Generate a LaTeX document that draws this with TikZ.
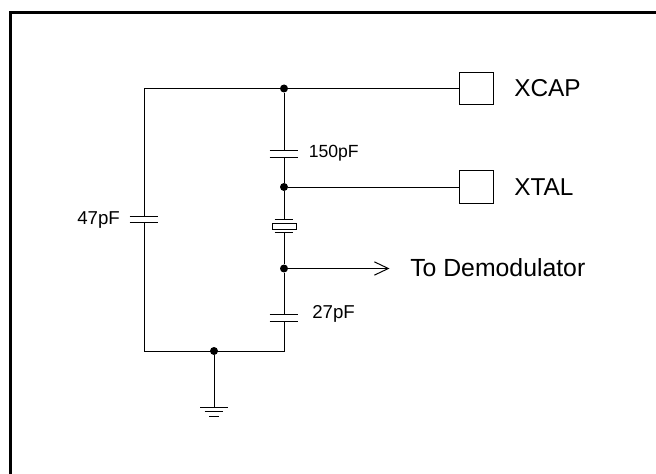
\documentclass[tikz,border=0pt]{standalone}
\usepackage{fontspec}
\setmainfont{Liberation Sans}
\usetikzlibrary{arrows.meta}

\tikzset{
	wire/.style={line width=0.75pt},
	dotnode/.style={circle, fill=black, inner sep=0pt, minimum size=6pt},
	padnode/.style={draw, line width=0.75pt, fill=white, minimum width=26pt, minimum height=24.5pt, inner sep=0pt},
	smalllabel/.style={inner sep=0pt, font=\fontsize{14pt}{15pt}\selectfont},
	biglabel/.style={inner sep=0pt, font=\fontsize{18.3pt}{20pt}\selectfont}
}

\begin{document}
\begin{tikzpicture}[x=0.75pt,y=-0.75pt]
	\useasboundingbox (0,0) rectangle (656,474);
	\draw[line width=2.25pt] (10.5,474)--(10.5,12.5)--(656,12.5);

	\node[dotnode] (top) at (284,88.5) {};
	\node[dotnode] (mid) at (284,187) {};
	\node[dotnode] (dem) at (284,268.5) {};
	\node[dotnode] (gnd) at (214,351) {};
	\coordinate (leftup) at (144,88.5);
	\coordinate (leftdown) at (144,351);
	\coordinate (rightdown) at (284,351);
	\node[padnode] (xcap) at (476.5,88.5) {};
	\node[padnode] (xtal) at (476.5,187) {};
	\coordinate (arrowend) at (389.5,268.5);

	% capacitor plates
	\coordinate (c47a) at (144,216);
	\coordinate (c47b) at (144,222.7);
	\coordinate (c150a) at (284,150.7);
	\coordinate (c150b) at (284,157.3);
	\coordinate (c27a) at (284,314.3);
	\coordinate (c27b) at (284,321);

	\draw[wire] (top)--(xcap);
	\draw[wire] (top)--(leftup)--(c47a);
	\draw[wire] (c47b)--(leftdown)--(rightdown)--(c27b);
	\draw[wire] (top)--(c150a);
	\draw[wire] (c150b)--(mid);
	\draw[wire] (mid)--(xtal);
	\draw[wire] (c27a)--(dem);
	\draw[wire, -{Straight Barb[length=10.5pt,width=10pt]}] (dem)--(arrowend);

	\draw[wire] ([xshift=-10.7pt]c47a)--([xshift=10.7pt]c47a);
	\draw[wire] ([xshift=-10.7pt]c47b)--([xshift=10.7pt]c47b);
	\draw[wire] ([xshift=-10.7pt]c150a)--([xshift=10.7pt]c150a);
	\draw[wire] ([xshift=-10.7pt]c150b)--([xshift=10.7pt]c150b);
	\draw[wire] ([xshift=-10.7pt]c27a)--([xshift=10.7pt]c27a);
	\draw[wire] ([xshift=-10.7pt]c27b)--([xshift=10.7pt]c27b);

	% crystal
	\node[draw, line width=0.75pt, minimum width=18pt, minimum height=5pt, inner sep=0pt] (crystal) at (284.5,226.5) {};
	\coordinate (xa) at (284,219.3);
	\coordinate (xb) at (284,232.7);
	\draw[wire] (mid)--(xa);
	\draw[wire] (xb)--(dem);
	\draw[line width=1pt] ([xshift=-7pt]xa)--([xshift=7pt]xa);
	\draw[line width=1pt] ([xshift=-7pt]xb)--([xshift=7pt]xb);

	% ground
	\coordinate (earth) at (214,407.3);
	\draw[wire] (gnd)--(earth);
	\draw[wire] ([xshift=-10.5pt]earth)--([xshift=10.5pt]earth);
	\draw[wire] ([xshift=-7pt,yshift=-3.3pt]earth)--([xshift=7pt,yshift=-3.3pt]earth);
	\draw[wire] ([xshift=-3.7pt,yshift=-6.7pt]earth)--([xshift=3.7pt,yshift=-6.7pt]earth);

	\node[smalllabel, anchor=west] (lab47) at (77,220) {47pF};
	\node[smalllabel, anchor=west, font=\fontsize{13.2pt}{15pt}\selectfont] (lab150) at (308.5,153.5) {150pF};
	\node[smalllabel, anchor=west] (lab27) at (312,314) {27pF};
	\node[biglabel, anchor=west] (labcap) at (514,88) {XCAP};
	\node[biglabel, anchor=west] (labtal) at (514,187) {XTAL};
	\node[biglabel, anchor=west, font=\fontsize{18.6pt}{20pt}\selectfont] (labdem) at (410,268) {To Demodulator};
\end{tikzpicture}
\end{document}
